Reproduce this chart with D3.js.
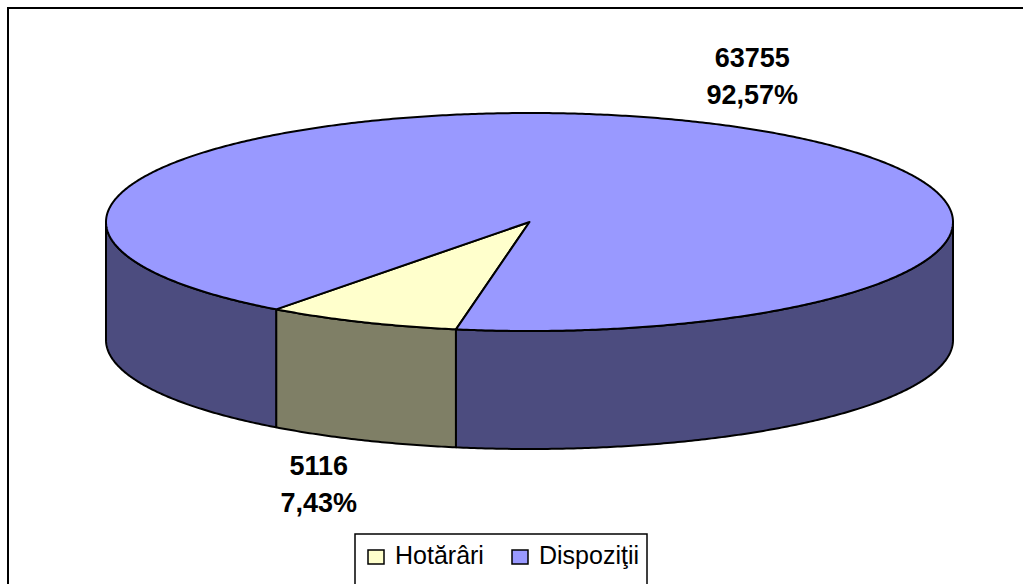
<!DOCTYPE html>
<html>
<head>
<meta charset="utf-8">
<script src="https://cdn.jsdelivr.net/npm/d3@7"></script>
<style>
  html, body { margin: 0; padding: 0; background: #fff; }
  svg { display: block; }
</style>
</head>
<body>
<svg id="chart" width="1023" height="584"></svg>
<script>
const categories = ["Hotărâri", "Dispoziţii"];
const values = [5116, 63755];
const percentLabels = ["7,43%", "92,57%"];
const topColors = ["#FFFFCC", "#9999FF"];
const sideColors = ["#7F7F66", "#4C4C7F"];

const W = 1023, H = 584;
const svg = d3.select("#chart");

// outer frame
svg.append("rect").attr("x", 8).attr("y", 8).attr("width", 1040).attr("height", 600)
  .attr("fill", "none").attr("stroke", "#000").attr("stroke-width", 2);

const cx = 529.5, cy = 222, rx = 423.5, ry = 109, depth = 118;
const deg = Math.PI / 180;

// d3.pie angles: 0 at 12 o'clock, clockwise
const pie = d3.pie().sort(null).value(d => d).startAngle(190 * deg).endAngle(190 * deg + 2 * Math.PI);
const arcs = pie(values);

// convert pie angle to screen parametric angle (0 at 3 o'clock, clockwise with y down)
const toPhi = a => a - Math.PI / 2;
const ex = phi => cx + rx * Math.cos(phi);
const ey = phi => cy + ry * Math.sin(phi);

function samples(a, b) {
  const pts = [];
  const steps = Math.max(2, Math.ceil(Math.abs(b - a) / (0.5 * deg)));
  for (let i = 0; i <= steps; i++) pts.push(a + (b - a) * i / steps);
  return pts;
}
const line = d3.line();

const gSides = svg.append("g");
const gTops = svg.append("g");

arcs.forEach((d, i) => {
  const s = toPhi(d.startAngle), e = toPhi(d.endAngle);
  // visible front intervals (sin > 0): [0,PI] + 2kPI
  for (let k = -1; k <= 2; k++) {
    const lo = Math.max(s, 2 * k * Math.PI), hi = Math.min(e, 2 * k * Math.PI + Math.PI);
    if (hi > lo) {
      const ph = samples(lo, hi);
      const topPts = ph.map(p => [ex(p), ey(p)]);
      const botPts = ph.slice().reverse().map(p => [ex(p), ey(p) + depth]);
      gSides.append("path")
        .attr("d", line(topPts.concat(botPts)) + "Z")
        .attr("fill", sideColors[i]).attr("stroke", "#000").attr("stroke-width", 2)
        .attr("stroke-linejoin", "round");
    }
  }
  const ph = samples(s, e);
  const pts = [[cx, cy]].concat(ph.map(p => [ex(p), ey(p)]));
  gTops.append("path")
    .attr("d", line(pts) + "Z")
    .attr("fill", topColors[i]).attr("stroke", "#000").attr("stroke-width", 2)
    .attr("stroke-linejoin", "round");
});

// data labels
const gLab = svg.append("g")
  .attr("font-family", "'Liberation Sans', Arial, sans-serif")
  .attr("font-weight", "bold").attr("font-size", 27).attr("fill", "#000")
  .attr("text-anchor", "middle");
arcs.forEach((d, i) => {
  const mid = toPhi((d.startAngle + d.endAngle) / 2);
  const x = cx + 6 + rx * 1.29 * Math.cos(mid);
  let y = cy + ry * 1.45 * Math.sin(mid);
  if (Math.sin(mid) > 0) y += depth;
  gLab.append("text").attr("x", x).attr("y", y - 19 + 9).text(values[i]);
  gLab.append("text").attr("x", x).attr("y", y + 18 + 9).text(percentLabels[i]);
});

// legend
const lg = svg.append("g");
lg.append("rect").attr("x", 355).attr("y", 534).attr("width", 292).attr("height", 52)
  .attr("fill", "#fff").attr("stroke", "#000").attr("stroke-width", 1.5);
const legX = [368, 512];
categories.forEach((c, i) => {
  lg.append("rect").attr("x", legX[i]).attr("y", 550).attr("width", 16).attr("height", 14)
    .attr("fill", topColors[i]).attr("stroke", "#000").attr("stroke-width", 1.5);
  lg.append("text").attr("x", legX[i] + 27).attr("y", 564)
    .attr("font-family", "'Liberation Sans', Arial, sans-serif").attr("font-size", 25)
    .attr("fill", "#000").text(c);
});
</script>
</body>
</html>
